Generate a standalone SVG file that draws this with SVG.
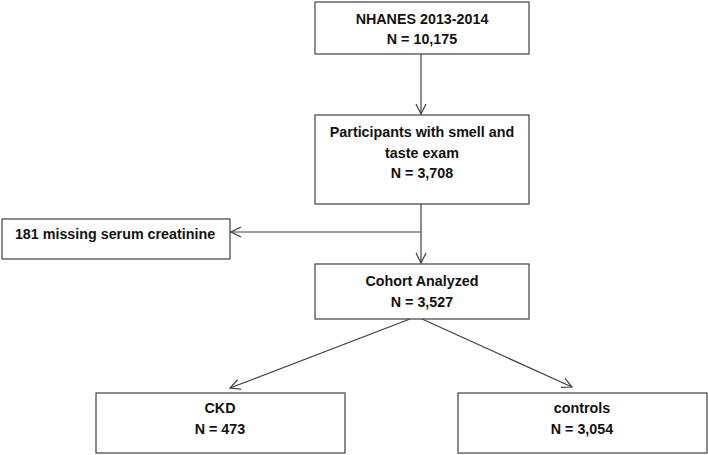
<svg xmlns="http://www.w3.org/2000/svg" width="708" height="455" viewBox="0 0 708 455">
<style>
.box{fill:#fff;stroke:#404040;stroke-width:1.2}
.t{font-family:"Liberation Sans",Arial,sans-serif;font-weight:bold;font-size:14.3px;fill:#111;text-anchor:middle}
.c{stroke:#404040;stroke-width:1.2;fill:none}
</style>
<defs>
<marker id="arr" markerWidth="12" markerHeight="12" refX="11" refY="6" orient="auto" markerUnits="userSpaceOnUse">
<path d="M1,1 L11,6 L1,11" fill="none" stroke="#404040" stroke-width="1.2"/>
</marker>
</defs>
<rect width="708" height="455" fill="#fff"/>
<g id="connectors">
<line class="c" x1="421" y1="54" x2="421" y2="114" marker-end="url(#arr)"/>
<line class="c" x1="421" y1="204" x2="421" y2="263" marker-end="url(#arr)"/>
<line class="c" x1="421" y1="232" x2="231" y2="232" marker-end="url(#arr)"/>
<line class="c" x1="410" y1="319" x2="230" y2="388" marker-end="url(#arr)"/>
<line class="c" x1="422" y1="319" x2="572" y2="387" marker-end="url(#arr)"/>
</g>
<g id="n1">
<rect class="box" x="315" y="2" width="214" height="52"/>
<text class="t" x="422" y="24">NHANES 2013-2014</text>
<text class="t" x="422" y="44">N = 10,175</text>
</g>
<g id="n2">
<rect class="box" x="315" y="115" width="214" height="89"/>
<text class="t" x="422" y="137">Participants with smell and</text>
<text class="t" x="422" y="158">taste exam</text>
<text class="t" x="422" y="178">N = 3,708</text>
</g>
<g id="n3">
<rect class="box" x="2" y="219" width="228" height="40"/>
<text class="t" x="115" y="239">181 missing serum creatinine</text>
</g>
<g id="n4">
<rect class="box" x="315" y="264" width="214" height="55"/>
<text class="t" x="422" y="286">Cohort Analyzed</text>
<text class="t" x="422" y="307">N = 3,527</text>
</g>
<g id="n5">
<rect class="box" x="96" y="393" width="249" height="60"/>
<text class="t" x="220" y="413">CKD</text>
<text class="t" x="220" y="434">N = 473</text>
</g>
<g id="n6">
<rect class="box" x="458" y="393" width="249" height="60"/>
<text class="t" x="582" y="413">controls</text>
<text class="t" x="582" y="434">N = 3,054</text>
</g>
</svg>
